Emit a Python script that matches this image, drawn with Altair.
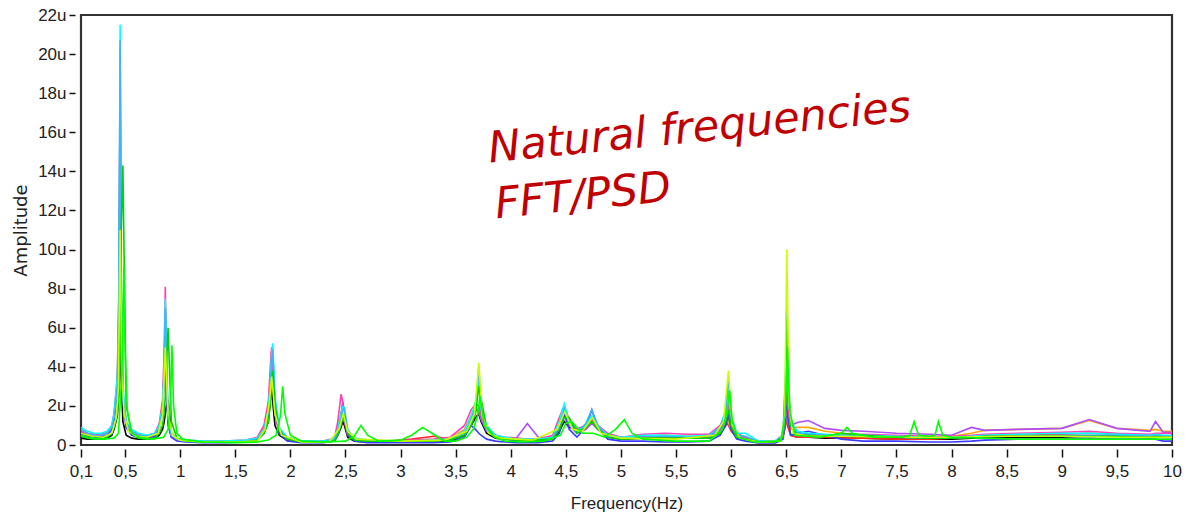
import altair as alt
import pandas as pd

# shared frequency grid (Hz) for the main family of spectra
FREQ = [
    0.10, 0.16, 0.22, 0.28, 0.34, 0.38,
    0.40, 0.43, 0.445, 0.455, 0.465, 0.48, 0.51, 0.56,
    0.62, 0.70, 0.77,
    0.81, 0.84, 0.855, 0.865, 0.875, 0.89, 0.92, 0.97,
    1.05, 1.2, 1.4, 1.6, 1.7,
    1.76, 1.80, 1.82, 1.83, 1.84, 1.86, 1.90, 1.97,
    2.1, 2.3, 2.4,
    2.43, 2.46, 2.475, 2.49, 2.52, 2.58,
    2.7, 2.9, 3.1, 3.3, 3.45,
    3.58, 3.64, 3.68, 3.71, 3.73, 3.78, 3.86,
    3.95, 4.05, 4.15, 4.25, 4.38,
    4.44, 4.485, 4.53, 4.6,
    4.68, 4.735, 4.79, 4.88,
    5.0, 5.2, 5.4, 5.6, 5.8,
    5.9, 5.95, 5.975, 6.0, 6.05,
    6.13, 6.25, 6.4,
    6.47, 6.495, 6.505, 6.515, 6.54, 6.6,
    6.7, 6.85, 7.0, 7.2, 7.5, 7.8, 8.0, 8.18, 8.3, 8.6, 9.0, 9.25, 9.5, 9.8, 9.85, 9.92, 10.0,
]

# amplitudes in micro-units (u)
black = [
    0.35, 0.3, 0.3, 0.3, 0.35, 0.5,
    0.8, 1.5, 3.5, 8.0, 3.5, 1.2, 0.5, 0.35,
    0.3, 0.3, 0.35,
    0.5, 0.8, 1.2, 1.6, 2.0, 2.3, 0.6, 0.3,
    0.2, 0.15, 0.15, 0.15, 0.25,
    0.6, 1.2, 2.4, 3.5, 2.2, 1.0, 0.5, 0.25,
    0.15, 0.15, 0.2,
    0.5, 0.9, 1.2, 1.0, 0.4, 0.2,
    0.15, 0.15, 0.15, 0.15, 0.2,
    0.5, 1.0, 1.4, 1.6, 1.2, 0.6, 0.35,
    0.3, 0.25, 0.25, 0.25, 0.3,
    0.7, 1.2, 0.9, 0.8,
    1.0, 1.3, 0.8, 0.4,
    0.3, 0.35, 0.35, 0.35, 0.35,
    0.6, 1.0, 1.5, 0.8, 0.35,
    0.3, 0.15, 0.15,
    0.4, 1.5, 2.5, 1.2, 0.5, 0.4,
    0.4, 0.35, 0.35, 0.35, 0.3, 0.3, 0.3, 0.35, 0.4, 0.4, 0.4, 0.45, 0.45, 0.45, 0.5, 0.45, 0.45,
]
red = [
    0.75, 0.55, 0.5, 0.5, 0.6, 0.9,
    1.4, 3.0, 7.0, 16.2, 7.0, 2.5, 1.0, 0.6,
    0.5, 0.45, 0.5,
    0.9, 1.9, 3.8, 6.0, 3.6, 1.2, 0.45, 0.28,
    0.2, 0.18, 0.18, 0.2, 0.3,
    0.8, 1.9, 3.6, 4.8, 3.4, 1.6, 0.6, 0.3,
    0.18, 0.18, 0.28,
    0.8, 1.4, 1.7, 1.3, 0.5, 0.28,
    0.2, 0.2, 0.3, 0.45, 0.3,
    0.7, 1.4, 1.8, 1.7, 1.4, 0.8, 0.5,
    0.35, 0.3, 0.3, 0.3, 0.4,
    1.3, 1.9, 1.2, 0.7,
    0.8, 1.2, 0.9, 0.5,
    0.35, 0.4, 0.4, 0.4, 0.4,
    0.7, 1.2, 1.0, 0.7, 0.4,
    0.3, 0.2, 0.2,
    0.4, 1.0, 1.5, 0.9, 0.5, 0.4,
    0.4, 0.4, 0.35, 0.35, 0.3, 0.3, 0.35, 0.4, 0.45, 0.5, 0.55, 0.6, 0.55, 0.5, 0.5, 0.45, 0.45,
]
orange = [
    0.7, 0.55, 0.5, 0.5, 0.65, 0.95,
    1.5, 3.2, 7.5, 17.7, 8.0, 2.8, 1.1, 0.65,
    0.5, 0.45, 0.55,
    1.0, 2.0, 4.0, 6.3, 4.0, 1.3, 0.5, 0.3,
    0.2, 0.18, 0.18, 0.22, 0.35,
    0.9, 2.0, 3.5, 4.2, 3.8, 1.9, 0.7, 0.35,
    0.2, 0.2, 0.3,
    0.9, 1.7, 1.9, 1.5, 0.6, 0.3,
    0.2, 0.2, 0.2, 0.25, 0.35,
    0.8, 1.5, 1.9, 1.8, 1.5, 0.8, 0.45,
    0.35, 0.3, 0.3, 0.3, 0.4,
    1.2, 1.8, 1.2, 0.7,
    0.9, 1.2, 0.9, 0.5,
    0.4, 0.45, 0.5, 0.45, 0.45,
    0.8, 1.4, 1.2, 0.8, 0.45,
    0.35, 0.2, 0.2,
    0.5, 1.4, 2.0, 1.2, 0.8, 0.9,
    0.9, 0.7, 0.6, 0.5, 0.45, 0.4, 0.45, 0.6, 0.75, 0.8, 0.85, 1.25, 0.85, 0.75, 0.8, 0.7, 0.7,
]
purple = [
    0.7, 0.5, 0.45, 0.45, 0.6, 0.9,
    1.3, 2.8, 6.5, 15.0, 6.5, 2.3, 0.9, 0.55,
    0.45, 0.4, 0.5,
    0.9, 1.8, 3.6, 6.5, 3.3, 1.1, 0.4, 0.25,
    0.2, 0.15, 0.15, 0.2, 0.3,
    0.8, 1.7, 3.2, 4.4, 3.4, 1.6, 0.6, 0.3,
    0.18, 0.18, 0.25,
    0.7, 1.3, 1.5, 1.2, 0.5, 0.25,
    0.2, 0.2, 0.2, 0.2, 0.3,
    0.7, 1.4, 1.9, 1.7, 1.3, 0.7, 0.4,
    0.3, 0.35, 1.1, 0.4, 0.35,
    1.0, 1.5, 1.0, 0.6,
    0.8, 1.1, 0.8, 0.45,
    0.35, 0.45, 0.45, 0.4, 0.4,
    0.8, 1.3, 1.4, 0.9, 0.45,
    0.35, 0.2, 0.2,
    0.5, 1.2, 1.5, 1.2, 1.0, 1.15,
    1.25, 0.85, 0.75, 0.7, 0.6, 0.55, 0.5, 0.9, 0.75, 0.8, 0.85, 1.3, 0.85, 0.7, 1.2, 0.65, 0.65,
]
blue = [
    0.6, 0.45, 0.4, 0.4, 0.5, 0.8,
    1.3, 2.8, 7.0, 18.6, 7.5, 2.3, 0.9, 0.5,
    0.4, 0.35, 0.45,
    0.8, 1.7, 3.8, 7.0, 3.5, 1.0, 0.4, 0.2,
    0.15, 0.12, 0.12, 0.15, 0.25,
    0.6, 1.4, 2.8, 4.0, 4.6, 2.0, 0.6, 0.2,
    0.12, 0.12, 0.2,
    0.6, 1.5, 2.2, 1.5, 0.5, 0.2,
    0.12, 0.12, 0.12, 0.12, 0.15,
    0.4, 1.0, 0.8, 0.6, 0.5, 0.3, 0.2,
    0.15, 0.12, 0.12, 0.12, 0.2,
    0.6, 1.6, 0.8, 0.4,
    0.9, 1.8, 0.9, 0.3,
    0.2, 0.2, 0.15, 0.15, 0.2,
    0.5, 1.0, 1.6, 0.8, 0.3,
    0.2, 0.1, 0.1,
    0.3, 1.5, 3.0, 1.4, 0.5, 0.6,
    0.7, 0.5, 0.3, 0.2, 0.2, 0.15, 0.15, 0.2, 0.25, 0.3, 0.3, 0.35, 0.3, 0.3, 0.3, 0.2, 0.2,
]
magenta = [
    0.8, 0.6, 0.55, 0.55, 0.7, 1.0,
    1.6, 3.5, 8.5, 20.3, 7.5, 2.6, 1.1, 0.7,
    0.55, 0.5, 0.6,
    1.1, 2.3, 4.8, 8.1, 4.2, 1.3, 0.5, 0.3,
    0.25, 0.2, 0.2, 0.25, 0.4,
    1.0, 2.2, 4.2, 5.0, 3.6, 1.8, 0.8, 0.4,
    0.2, 0.2, 0.35,
    1.2, 2.6, 2.2, 1.4, 0.6, 0.3,
    0.25, 0.2, 0.25, 0.3, 0.4,
    1.0, 1.8, 2.1, 2.0, 1.6, 0.9, 0.5,
    0.4, 0.35, 0.3, 0.3, 0.5,
    1.4, 2.0, 1.3, 0.8,
    1.0, 1.3, 1.0, 0.6,
    0.4, 0.55, 0.6, 0.55, 0.55,
    1.0, 1.6, 2.0, 1.2, 0.6,
    0.4, 0.2, 0.2,
    0.5, 2.2, 4.5, 2.0, 0.9, 0.6,
    0.55, 0.5, 0.5, 0.55, 0.5, 0.45, 0.45, 0.5, 0.55, 0.6, 0.65, 0.7, 0.6, 0.55, 0.6, 0.6, 0.6,
]
cyan = [
    0.9, 0.7, 0.6, 0.6, 0.7, 1.0,
    1.6, 3.5, 8.0, 21.5, 9.0, 3.0, 1.2, 0.8,
    0.6, 0.5, 0.6,
    1.0, 2.0, 4.0, 7.5, 4.5, 1.5, 0.6, 0.35,
    0.25, 0.2, 0.2, 0.25, 0.35,
    0.8, 1.8, 3.4, 4.6, 5.2, 2.5, 0.9, 0.4,
    0.2, 0.2, 0.3,
    0.8, 1.6, 2.0, 1.6, 0.7, 0.35,
    0.25, 0.2, 0.2, 0.25, 0.3,
    0.7, 1.5, 2.2, 3.2, 2.0, 1.0, 0.5,
    0.4, 0.3, 0.3, 0.3, 0.4,
    1.2, 2.1, 1.2, 0.7,
    1.0, 1.5, 1.0, 0.5,
    0.4, 0.5, 0.5, 0.45, 0.5,
    0.9, 1.8, 2.8, 1.5, 0.6,
    0.6, 0.2, 0.2,
    0.5, 3.5, 7.0, 3.0, 1.2, 0.7,
    0.6, 0.55, 0.5, 0.5, 0.45, 0.4, 0.4, 0.45, 0.5, 0.55, 0.6, 0.6, 0.55, 0.5, 0.55, 0.5, 0.5,
]
lightblue = [
    0.8, 0.6, 0.5, 0.5, 0.6, 0.9,
    1.4, 3.0, 7.0, 20.7, 8.0, 2.6, 1.1, 0.7,
    0.5, 0.45, 0.55,
    0.9, 1.8, 3.6, 7.0, 4.2, 1.4, 0.5, 0.3,
    0.2, 0.15, 0.15, 0.2, 0.3,
    0.7, 1.6, 3.0, 4.2, 4.9, 2.2, 0.8, 0.35,
    0.2, 0.15, 0.25,
    0.7, 1.4, 1.8, 1.9, 0.8, 0.3,
    0.2, 0.2, 0.2, 0.2, 0.3,
    0.6, 1.2, 1.8, 4.0, 1.8, 0.8, 0.4,
    0.3, 0.25, 0.25, 0.25, 0.35,
    1.0, 1.8, 1.1, 0.6,
    1.1, 1.8, 1.0, 0.45,
    0.35, 0.4, 0.45, 0.4, 0.45,
    0.9, 1.7, 3.5, 1.4, 0.5,
    0.45, 0.15, 0.15,
    0.5, 4.0, 7.5, 3.2, 1.0, 0.6,
    0.55, 0.5, 0.45, 0.45, 0.4, 0.35, 0.35, 0.4, 0.45, 0.45, 0.5, 0.5, 0.5, 0.45, 0.5, 0.45, 0.45,
]
green = [
    0.45, 0.35, 0.3, 0.3, 0.4, 0.6,
    0.9, 1.6, 2.5, 4.5, 11.0, 14.3, 2.0, 0.6,
    0.35, 0.3, 0.35,
    0.6, 1.0, 1.6, 2.5, 4.0, 6.0, 1.2, 0.35,
    0.2, 0.15, 0.15, 0.15, 0.25,
    0.6, 1.2, 2.2, 3.2, 3.8, 2.0, 0.7, 0.3,
    0.15, 0.15, 0.2,
    0.5, 1.0, 1.4, 1.5, 0.6, 0.25,
    0.2, 0.2, 0.2, 0.2, 0.25,
    0.5, 1.0, 1.6, 3.0, 2.4, 0.9, 0.4,
    0.3, 0.25, 0.25, 0.25, 0.3,
    0.8, 1.4, 1.4, 0.6,
    0.9, 1.2, 0.8, 0.4,
    0.3, 0.35, 0.35, 0.35, 0.35,
    0.6, 1.2, 1.8, 1.0, 0.4,
    0.3, 0.15, 0.15,
    0.4, 2.5, 6.5, 4.0, 1.0, 0.5,
    0.5, 0.45, 0.6, 0.5, 0.4, 0.35, 0.35, 0.4, 0.45, 0.45, 0.45, 0.45, 0.45, 0.4, 0.45, 0.4, 0.4,
]

# series with their own frequency points
yg_freq = [0.1, 0.2, 0.3, 0.38, 0.42, 0.44, 0.455, 0.47, 0.49, 0.53, 0.6, 0.7, 0.8, 0.84, 0.865,
           0.89, 0.93, 1.0, 1.2, 1.5, 1.7, 1.77, 1.81, 1.83, 1.86, 1.92, 2.1, 2.35, 2.44, 2.48,
           2.52, 2.6, 3.0, 3.4, 3.6, 3.67, 3.71, 3.74, 3.8, 3.9, 4.2, 4.42, 4.49, 4.56, 4.65,
           4.74, 4.82, 5.0, 5.5, 5.85, 5.93, 5.975, 6.01, 6.08, 6.25, 6.45, 6.485, 6.505, 6.525, 6.56,
           6.7, 7.0, 7.5, 8.0, 8.5, 9.0, 9.5, 10.0]
yg_amp = [0.6, 0.45, 0.4, 0.6, 1.4, 3.0, 11.0, 4.0, 1.6, 0.7, 0.45, 0.4, 0.6, 1.5, 5.0,
          1.6, 0.5, 0.25, 0.15, 0.15, 0.2, 0.8, 2.2, 3.5, 1.6, 0.5, 0.15, 0.15, 0.8, 1.6,
          0.7, 0.3, 0.2, 0.25, 0.7, 1.6, 4.2, 1.5, 0.6, 0.35, 0.25, 0.8, 1.7, 0.8, 0.7,
          1.4, 0.6, 0.35, 0.3, 0.5, 1.2, 3.8, 1.0, 0.35, 0.15, 0.2, 1.5, 10.0, 2.0, 0.6,
          0.45, 0.45, 0.4, 0.4, 0.45, 0.45, 0.4, 0.4]

gs_freq = [0.10, 0.2, 0.3, 0.4, 0.44, 0.47, 0.48, 0.49, 0.50, 0.52, 0.56, 0.65, 0.75, 0.85, 0.89,
           0.91, 0.925, 0.94, 0.97, 1.02, 1.2, 1.5, 1.7, 1.8, 1.87, 1.91, 1.93, 1.95, 2.0, 2.1,
           2.3, 2.5, 2.58, 2.64, 2.7, 2.8, 3.0, 3.1, 3.2, 3.3, 3.4, 3.5, 3.6, 3.66, 3.7,
           3.72, 3.76, 3.85, 3.95, 4.1, 4.3, 4.45, 4.5, 4.55, 4.65, 4.75, 4.85, 4.95, 5.03, 5.1,
           5.2, 5.5, 5.8, 5.92, 5.96, 5.985, 6.01, 6.06, 6.2, 6.45, 6.49, 6.51, 6.53, 6.58, 6.8,
           7.0, 7.05, 7.1, 7.3, 7.55, 7.62, 7.66, 7.7, 7.8, 7.85, 7.88, 7.92, 8.0, 8.3, 8.6,
           9.0, 9.5, 10.0]
gs_amp = [0.5, 0.35, 0.3, 0.35, 0.6, 3.5, 6.0, 9.2, 5.0, 1.8, 0.6, 0.35, 0.3, 0.4, 0.8,
          2.0, 5.1, 2.0, 0.6, 0.3, 0.15, 0.12, 0.15, 0.25, 0.5, 1.5, 3.0, 1.6, 0.5, 0.2,
          0.15, 0.2, 0.45, 1.0, 0.5, 0.2, 0.25, 0.5, 0.9, 0.55, 0.2, 0.2, 0.4, 0.8, 1.5,
          2.5, 1.0, 0.4, 0.2, 0.15, 0.2, 0.5, 1.1, 1.2, 0.6, 0.6, 0.4, 0.8, 1.3, 0.6,
          0.3, 0.2, 0.2, 0.8, 1.6, 2.8, 1.2, 0.4, 0.15, 0.2, 1.5, 5.0, 1.8, 0.5, 0.4,
          0.6, 0.9, 0.6, 0.4, 0.4, 0.5, 1.2, 0.5, 0.45, 0.5, 1.2, 0.5, 0.4, 0.35, 0.3,
          0.3, 0.3, 0.3]

x_ticks = [0.1, 0.5, 1, 1.5, 2, 2.5, 3, 3.5, 4, 4.5, 5, 5.5, 6, 6.5, 7, 7.5, 8, 8.5, 9, 9.5, 10]
y_ticks = [0, 2, 4, 6, 8, 10, 12, 14, 16, 18, 20, 22]

notes = ["Natural frequencies", "FFT/PSD"]
note_f = [3.81, 3.87]
note_a = [14.45, 11.6]

series = [
    ("#000000", FREQ, black),
    ("#ff2a2a", FREQ, red),
    ("#ffa500", FREQ, orange),
    ("#b04cff", FREQ, purple),
    ("#3c3cff", FREQ, blue),
    ("#ff40b4", FREQ, magenta),
    ("#00ffff", FREQ, cyan),
    ("#3cb4ff", FREQ, lightblue),
    ("#00d200", FREQ, green),
    ("#c8ff00", yg_freq, yg_amp),
    ("#00ff00", gs_freq, gs_amp),
]

LABEL_FONT = "Liberation Sans"
x_enc = alt.X(
    "f:Q",
    scale=alt.Scale(domain=[0.1, 10], nice=False, zero=False),
    axis=alt.Axis(
        values=x_ticks, labelExpr="replace(toString(datum.value), '.', ',')",
        title="Frequency(Hz)", titleFont=LABEL_FONT, titleFontSize=17, titleFontWeight="normal",
        titleColor="#222", titlePadding=16, labelFont=LABEL_FONT, labelFontSize=17, labelColor="#222",
        labelPadding=6, tickSize=8, tickColor="#111", tickWidth=1.5, offset=4, domain=False,
        grid=False, labelFlush=False, labelOverlap=False,
    ),
)
y_enc = alt.Y(
    "a:Q",
    scale=alt.Scale(domain=[0, 22], nice=False),
    axis=alt.Axis(
        values=y_ticks, labelExpr="datum.value == 0 ? '0' : datum.value + 'u'",
        title="Amplitude", titleFont="DejaVu Sans", titleFontSize=18, titleFontWeight="normal",
        titleColor="#222", titlePadding=7, labelFont=LABEL_FONT, labelFontSize=17, labelColor="#222",
        labelPadding=3, tickSize=6, tickColor="#111", tickWidth=1.5, offset=6, domain=False,
        grid=False, labelFlush=False, labelOverlap=False,
    ),
)

layers = []
for color, fr, amps in series:
    assert len(fr) == len(amps), color
    df = pd.DataFrame({"f": fr, "a": amps})
    layers.append(
        alt.Chart(df).mark_line(color=color, strokeWidth=1.6, clip=True).encode(x=x_enc, y=y_enc)
    )

note_df = pd.DataFrame({"f": note_f, "a": note_a, "t": notes})
layers.append(
    alt.Chart(note_df).mark_text(
        align="left", baseline="alphabetic", angle=354.3, font="DejaVu Sans", fontStyle="italic",
        fontSize=43, color="#c00000",
    ).encode(x=x_enc, y=y_enc, text="t:N")
)

chart = alt.layer(*layers).properties(
    width=1091, height=430,
    autosize=alt.AutoSizeParams(type="none"),
    padding={"left": 81, "top": 15, "right": 16, "bottom": 74},
    background="white",
).configure_view(stroke="#333", strokeWidth=2.2)

chart.save("out.html", embed_options={"renderer": "svg", "actions": False})
